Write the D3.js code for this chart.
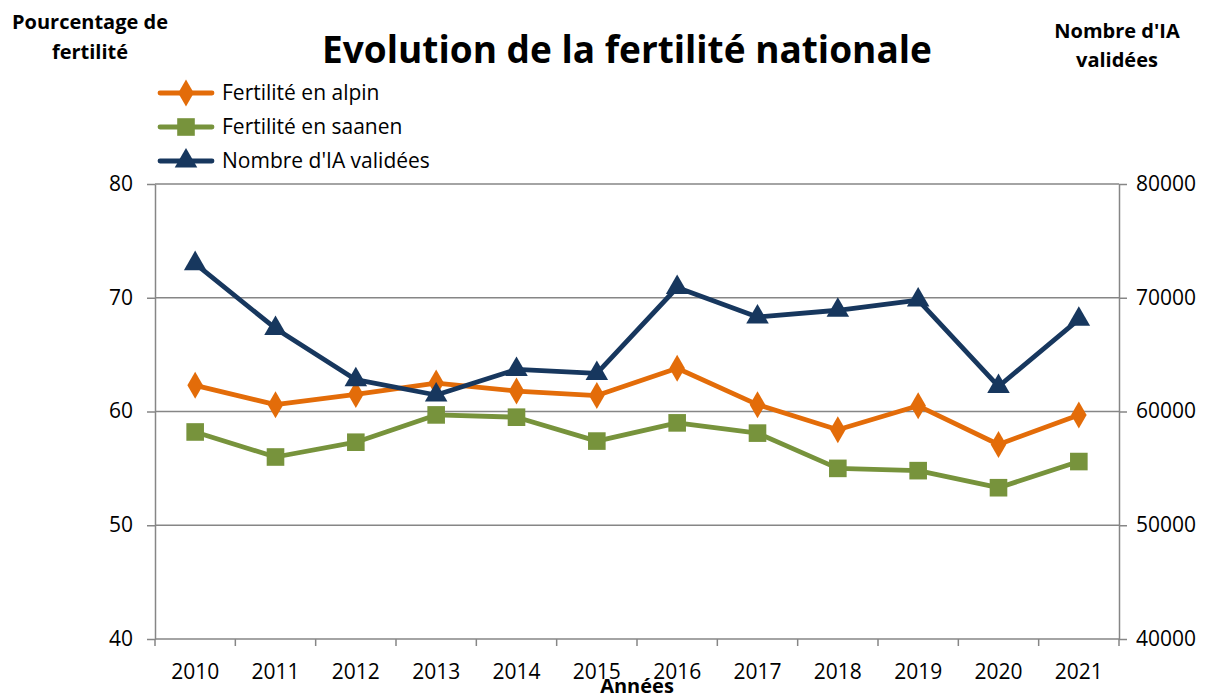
<html>
<head>
<style>
body{ margin:0; background:#ffffff; }
#chart{ display:block; }
text{ font-family:"Open Sans", sans-serif; fill:#000; }
.grid line{ stroke:#868686; stroke-width:1.5; }
.axis path, .axis line{ stroke:#868686; stroke-width:1.5; }
.axis text{ font-size:21px; }
</style>
</head>
<body>
<svg id="chart"></svg>
<script src="https://d3js.org/d3.v7.min.js"></script>
<script>
var years = ["2010","2011","2012","2013","2014","2015","2016","2017","2018","2019","2020","2021"];
var alpin = [62.3, 60.6, 61.5, 62.5, 61.8, 61.4, 63.8, 60.6, 58.4, 60.5, 57.1, 59.7];
var saanen = [58.2, 56.0, 57.3, 59.7, 59.5, 57.4, 59.0, 58.1, 55.0, 54.8, 53.3, 55.6];
var ia = [73000, 67300, 62800, 61450, 63700, 63350, 70900, 68300, 68900, 69800, 62200, 68100];
var leftTicks = [40, 50, 60, 70, 80];
var rightTicks = [40000, 50000, 60000, 70000, 80000];

var W = 1211, H = 695;
var margin = {top:184, right:92, bottom:56, left:155};
var width = W - margin.left - margin.right;
var height = H - margin.top - margin.bottom;

var svg = d3.select("#chart").attr("width", W).attr("height", H);
var g = svg.append("g").attr("transform", "translate(" + margin.left + "," + margin.top + ")");

var x = d3.scaleBand().domain(years).range([0, width]);
var yL = d3.scaleLinear().domain([40, 80]).range([height, 0]);
var yR = d3.scaleLinear().domain([40000, 80000]).range([height, 0]);

// gridlines
g.append("g").attr("class", "grid")
    .selectAll("line")
    .data(leftTicks.slice(1))
    .enter().append("line")
    .attr("x1", 0).attr("x2", width)
    .attr("y1", function(d){ return yL(d); })
    .attr("y2", function(d){ return yL(d); });

// axes
var xAxis = g.append("g").attr("class", "axis")
    .attr("transform", "translate(0," + height + ")")
    .call(d3.axisBottom(x).tickSize(0).tickPadding(20));
xAxis.select(".domain").remove();
xAxis.append("line").attr("x1", 0).attr("x2", width).attr("y1", 0).attr("y2", 0);
xAxis.selectAll(".sep")
    .data(years.concat(["end"]))
    .enter().append("line")
    .attr("class", "sep")
    .attr("x1", function(d, i){ return i * x.bandwidth(); })
    .attr("x2", function(d, i){ return i * x.bandwidth(); })
    .attr("y1", 0).attr("y2", 7);
xAxis.selectAll("text").attr("dy", "0.35em").attr("y", 33);

var lAxis = g.append("g").attr("class", "axis")
    .call(d3.axisLeft(yL).tickValues(leftTicks).tickSize(8).tickSizeOuter(0).tickPadding(14));
lAxis.selectAll("text").attr("dy", "0.3em");

var rAxis = g.append("g").attr("class", "axis")
    .attr("transform", "translate(" + width + ",0)")
    .call(d3.axisRight(yR).tickValues(rightTicks).tickSize(8).tickSizeOuter(0).tickPadding(9).tickFormat(d3.format("d")));
rAxis.selectAll("text").attr("dy", "0.3em");

var cx = function(d, i){ return x(years[i]) + x.bandwidth() / 2; };

var series = [
    {name:"Fertilité en alpin", values:alpin, scale:yL, color:"#E36C09", marker:d3.symbolDiamond, size:210},
    {name:"Fertilité en saanen", values:saanen, scale:yL, color:"#77933C", marker:d3.symbolSquare, size:310},
    {name:"Nombre d'IA validées", values:ia, scale:yR, color:"#17375E", marker:d3.symbolTriangle, size:220}
];

series.forEach(function(s){
    var line = d3.line()
        .x(cx)
        .y(function(d){ return s.scale(d); });
    g.append("path")
        .datum(s.values)
        .attr("fill", "none")
        .attr("stroke", s.color)
        .attr("stroke-width", 4.8)
        .attr("stroke-linejoin", "round")
        .attr("d", line);
    g.selectAll(null)
        .data(s.values)
        .enter().append("path")
        .attr("d", d3.symbol().type(s.marker).size(s.size))
        .attr("fill", s.color)
        .attr("transform", function(d, i){
            return "translate(" + cx(d, i) + "," + s.scale(d) + ")";
        });
});

// legend
var legend = svg.append("g").attr("transform", "translate(160,93)");
series.forEach(function(s, i){
    var row = legend.append("g").attr("transform", "translate(0," + (i * 34) + ")");
    row.append("line")
        .attr("x1", 0).attr("x2", 52).attr("y1", 0).attr("y2", 0)
        .attr("stroke", s.color).attr("stroke-width", 4.8).attr("stroke-linecap", "round");
    row.append("path")
        .attr("d", d3.symbol().type(s.marker).size(s.size))
        .attr("fill", s.color)
        .attr("transform", "translate(26,0)");
    row.append("text")
        .attr("x", 62).attr("dy", "0.35em")
        .style("font-size", "21px")
        .text(s.name);
});

// titles
svg.append("text")
    .attr("x", 627).attr("y", 63)
    .attr("text-anchor", "middle")
    .style("font-size", "37px").style("font-weight", "bold")
    .text("Evolution de la fertilité nationale");

var leftTitle = svg.append("text")
    .attr("text-anchor", "middle")
    .style("font-size", "20px").style("font-weight", "bold");
leftTitle.append("tspan").attr("x", 90).attr("y", 29).text("Pourcentage de");
leftTitle.append("tspan").attr("x", 90).attr("y", 59).text("fertilité");

var rightTitle = svg.append("text")
    .attr("text-anchor", "middle")
    .style("font-size", "20px").style("font-weight", "bold");
rightTitle.append("tspan").attr("x", 1117).attr("y", 38).text("Nombre d'IA");
rightTitle.append("tspan").attr("x", 1117).attr("y", 67).text("validées");

svg.append("text")
    .attr("x", 637).attr("y", 693)
    .attr("text-anchor", "middle")
    .style("font-size", "20px").style("font-weight", "bold")
    .text("Années");
</script>
</body>
</html>
